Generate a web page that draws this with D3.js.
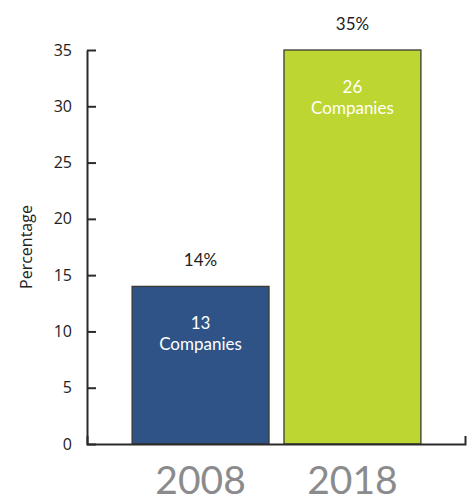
<!DOCTYPE html>
<html>
<head>
<meta charset="utf-8">
<script src="https://cdn.jsdelivr.net/npm/d3@7"></script>
<style>
  html, body { margin: 0; padding: 0; background: #fff; }
  svg { display: block; }
</style>
</head>
<body>
<svg id="chart" width="470" height="503"></svg>
<script>
// Data
const years = ["2008", "2018"];
const percentages = [14, 35];
const companyCounts = [13, 26];
const barColors = ["#2f5386", "#bed631"];
const yTicks = [0, 5, 10, 15, 20, 25, 30, 35];

const svg = d3.select("#chart");

const frame = { left: 87, right: 465, top: 50, bottom: 444 };

const y = d3.scaleLinear().domain([0, 35]).range([frame.bottom, frame.top]);

const x = d3.scaleBand()
  .domain(years)
  .range([124.5, 428.5])
  .paddingInner(0.0987)
  .paddingOuter(0.05);

const frameX = d3.scaleLinear().domain([0, 1]).range([frame.left, frame.right]);

// Bars
const rows = years.map((yr, i) => ({ year: yr, pct: percentages[i], n: companyCounts[i], color: barColors[i] }));

svg.append("g").selectAll("rect")
  .data(rows)
  .join("rect")
  .attr("x", d => x(d.year))
  .attr("y", d => y(d.pct))
  .attr("width", x.bandwidth())
  .attr("height", d => y(0) - y(d.pct))
  .attr("fill", d => d.color)
  .attr("stroke", "#3a3a32")
  .attr("stroke-width", 1.3);

const axisFont = "'Open Sans', 'Noto Sans', sans-serif";

// Y axis with inward ticks
const yAxis = svg.append("g")
  .attr("transform", `translate(${frame.left},0)`)
  .call(d3.axisLeft(y).tickValues(yTicks).tickSize(-9).tickSizeOuter(0).tickPadding(15));
yAxis.attr("font-size", null).attr("font-family", null);
yAxis.select(".domain").attr("stroke", "#2b2b2b").attr("stroke-width", 2);
yAxis.selectAll(".tick line").attr("stroke", "#2b2b2b").attr("stroke-width", 2);
yAxis.selectAll(".tick text")
  .attr("fill", "#222")
  .attr("font-family", axisFont)
  .attr("font-size", 16);

// X baseline with small upturned end
const xAxis = svg.append("g")
  .attr("transform", `translate(0,${frame.bottom})`)
  .call(d3.axisBottom(frameX).tickValues([]).tickSizeOuter(-8));
xAxis.select(".domain").attr("stroke", "#2b2b2b").attr("stroke-width", 2).attr("fill", "none");

// Y axis title
svg.append("text")
  .attr("transform", `translate(32,${(frame.top + frame.bottom) / 2}) rotate(-90)`)
  .attr("text-anchor", "middle")
  .attr("fill", "#222")
  .attr("font-family", axisFont)
  .attr("font-size", 16)
  .text("Percentage");

const labelFont = "Lato, 'Noto Sans', sans-serif";

// Percentage labels above bars
svg.append("g").selectAll("text")
  .data(rows)
  .join("text")
  .attr("x", d => x(d.year) + x.bandwidth() / 2)
  .attr("y", d => y(d.pct) - 20)
  .attr("text-anchor", "middle")
  .attr("fill", "#222")
  .attr("font-family", labelFont)
  .attr("font-size", 17)
  .text(d => d.pct + "%");

// Company counts inside bars
const inner = svg.append("g").selectAll("text")
  .data(rows)
  .join("text")
  .attr("x", d => x(d.year) + x.bandwidth() / 2)
  .attr("y", d => y(d.pct) + 43)
  .attr("text-anchor", "middle")
  .attr("fill", "#fff")
  .attr("font-family", labelFont)
  .attr("font-size", 17);
inner.append("tspan").text(d => d.n);
inner.append("tspan")
  .attr("x", d => x(d.year) + x.bandwidth() / 2)
  .attr("dy", 21)
  .text("Companies");

// Year labels
svg.append("g").selectAll("text")
  .data(rows)
  .join("text")
  .attr("x", d => x(d.year) + x.bandwidth() / 2)
  .attr("y", 494)
  .attr("text-anchor", "middle")
  .attr("fill", "#8b8b8d")
  .attr("font-family", labelFont)
  .attr("font-size", 39)
  .text(d => d.year);
</script>
</body>
</html>
